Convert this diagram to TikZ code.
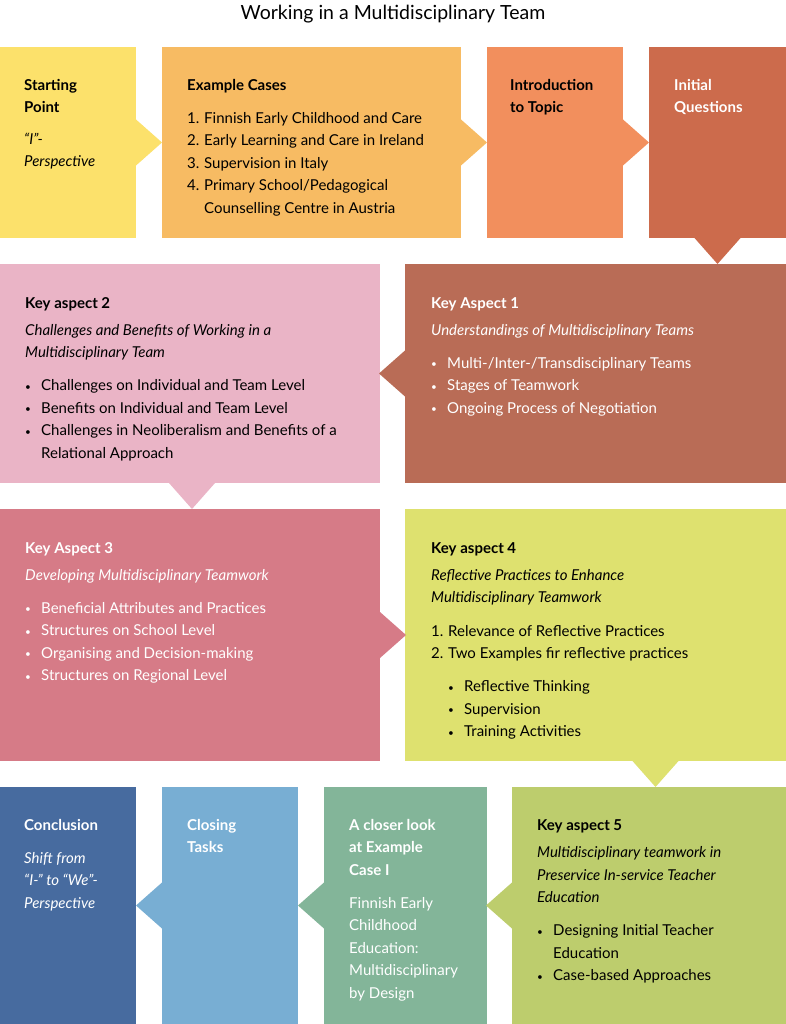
\documentclass[tikz,border=0pt]{standalone}
\usepackage{fontspec}
\setmainfont{Lato}
\usetikzlibrary{calc}
\definecolor{cStart}{HTML}{FCE16B}
\definecolor{cCases}{HTML}{F7BB63}
\definecolor{cIntro}{HTML}{F28F5D}
\definecolor{cInit}{HTML}{CC6B4C}
\definecolor{cKAone}{HTML}{B96C56}
\definecolor{cKAtwo}{HTML}{EAB4C6}
\definecolor{cKAthree}{HTML}{D67B87}
\definecolor{cKAfour}{HTML}{DEE16F}
\definecolor{cKAfive}{HTML}{BDCD6D}
\definecolor{cCloser}{HTML}{83B599}
\definecolor{cTasks}{HTML}{78AED3}
\definecolor{cConcl}{HTML}{476B9F}
\newcommand\itm{\makebox[16pt][l]{\fontsize{10}{10}\selectfont\raisebox{0.5pt}{•}}}
\newcommand\num[1]{\makebox[17pt][l]{#1.}}
\begin{document}
\begin{tikzpicture}[x=1pt,y=-1pt,
  box/.style={anchor=north west,inner sep=0pt,outer sep=0pt},
  txt/.style={anchor=north west,inner sep=0pt,align=left,font=\fontsize{15}{22.5}\selectfont}]
\useasboundingbox[fill=white] (0,0) rectangle (786,1024);
\node[anchor=center,font=\fontsize{19.5}{21}\selectfont] (title) at (393,14) {Working in a Multidisciplinary Team};
% boxes
\node[box,fill=cStart,minimum width=136pt,minimum height=191pt] (start) at (0,47) {};
\node[box,fill=cCases,minimum width=299pt,minimum height=191pt] (cases) at (162,47) {};
\node[box,fill=cIntro,minimum width=136pt,minimum height=191pt] (intro) at (487,47) {};
\node[box,fill=cInit,minimum width=137pt,minimum height=191pt] (init) at (649,47) {};
\node[box,fill=cKAone,minimum width=381pt,minimum height=219pt] (kaone) at (405,264) {};
\node[box,fill=cKAtwo,minimum width=380pt,minimum height=219pt] (katwo) at (0,264) {};
\node[box,fill=cKAthree,minimum width=380pt,minimum height=252pt] (kathree) at (0,509) {};
\node[box,fill=cKAfour,minimum width=381pt,minimum height=252pt] (kafour) at (405,509) {};
\node[box,fill=cKAfive,minimum width=274pt,minimum height=237pt] (kafive) at (512,787) {};
\node[box,fill=cCloser,minimum width=163pt,minimum height=237pt] (closer) at (324,787) {};
\node[box,fill=cTasks,minimum width=136pt,minimum height=237pt] (tasks) at (162,787) {};
\node[box,fill=cConcl,minimum width=136pt,minimum height=237pt] (concl) at (0,787) {};
% pointers
\fill[cStart] ([yshift=23pt]start.east) -- ([xshift=26pt]start.east) -- ([yshift=-23pt]start.east) -- cycle;
\fill[cCases] ([yshift=23pt]cases.east) -- ([xshift=26pt]cases.east) -- ([yshift=-23pt]cases.east) -- cycle;
\fill[cIntro] ([yshift=23pt]intro.east) -- ([xshift=26pt]intro.east) -- ([yshift=-23pt]intro.east) -- cycle;
\fill[cInit] ([xshift=-23pt]init.south) -- ([yshift=-26pt]init.south) -- ([xshift=23pt]init.south) -- cycle;
\fill[cKAone] ([yshift=23pt]kaone.west) -- ([xshift=-26pt]kaone.west) -- ([yshift=-23pt]kaone.west) -- cycle;
\fill[cKAtwo] ([xshift=-21pt]katwo.south) -- ([xshift=2pt,yshift=-26pt]katwo.south) -- ([xshift=25pt]katwo.south) -- cycle;
\fill[cKAthree] ([yshift=23pt]kathree.east) -- ([xshift=26pt]kathree.east) -- ([yshift=-23pt]kathree.east) -- cycle;
\coordinate (kafourtip) at ($(kafour.south)+(60,0)$);
\fill[cKAfour] ([xshift=-23pt]kafourtip) -- ([yshift=-26pt]kafourtip) -- ([xshift=23pt]kafourtip) -- cycle;
\fill[cKAfive] ([yshift=23pt]kafive.west) -- ([xshift=-26pt]kafive.west) -- ([yshift=-23pt]kafive.west) -- cycle;
\fill[cCloser] ([yshift=23pt]closer.west) -- ([xshift=-26pt]closer.west) -- ([yshift=-23pt]closer.west) -- cycle;
\fill[cTasks] ([yshift=23pt]tasks.west) -- ([xshift=-26pt]tasks.west) -- ([yshift=-23pt]tasks.west) -- cycle;
% texts
\node[txt] (starttext) at (24,79) {\textbf{Starting}\\\textbf{Point}\\[9pt]\textit{“I”-}\\\textit{Perspective}};
\node[txt] (casestext) at (187,79) {\textbf{Example Cases}\\[10.5pt]
  \num{1}Finnish Early Childhood and Care\\\num{2}Early Learning and Care in Ireland\\
  \num{3}Supervision in Italy\\\num{4}Primary School/Pedagogical\\\hspace*{17pt}Counselling Centre in Austria};
\node[txt] (introtext) at (510,79) {\textbf{Introduction}\\\textbf{to Topic}};
\node[txt,text=white] (inittext) at (674,79) {\textbf{Initial}\\\textbf{Questions}};
\node[txt,text=white] (kaonetext) at (431,297) {\textbf{Key Aspect 1}\\[4.5pt]
  \textit{Understandings of Multidisciplinary Teams}\\[10.5pt]
  \itm Multi-/Inter-/Transdisciplinary Teams\\\itm Stages of Teamwork\\\itm Ongoing Process of Negotiation};
\node[txt] (katwotext) at (25,297) {\textbf{Key aspect 2}\\[4.5pt]
  \textit{Challenges and Benefits of Working in a}\\\textit{Multidisciplinary Team}\\[10.5pt]
  \itm Challenges on Individual and Team Level\\\itm Benefits on Individual and Team Level\\
  \itm Challenges in Neoliberalism and Benefits of a\\\hspace*{16pt}Relational Approach};
\node[txt,text=white] (kathreetext) at (25,542) {\textbf{Key Aspect 3}\\[4.5pt]
  \textit{Developing Multidisciplinary Teamwork}\\[10.5pt]
  \itm Beneficial Attributes and Practices\\\itm Structures on School Level\\
  \itm Organising and Decision-making\\\itm Structures on Regional Level};
\node[txt] (kafourtext) at (431,542) {\textbf{Key aspect 4}\\[4.5pt]
  \textit{Reflective Practices to Enhance}\\\textit{Multidisciplinary Teamwork}\\[11pt]
  \num{1}Relevance of Reflective Practices\\\num{2}Two Examples fir reflective practices\\[10.5pt]
  \hspace*{17pt}\itm Reflective Thinking\\\hspace*{17pt}\itm Supervision\\\hspace*{17pt}\itm Training Activities};
\node[txt] (kafivetext) at (537,819) {\textbf{Key aspect 5}\\[5pt]
  \textit{Multidisciplinary teamwork in}\\\textit{Preservice In-service Teacher}\\\textit{Education}\\[10.5pt]
  \itm Designing Initial Teacher\\\hspace*{16pt}Education\\\itm Case-based Approaches};
\node[txt,text=white] (closertext) at (349,819) {\textbf{A closer look}\\\textbf{at Example}\\\textbf{Case I}\\[10.5pt]
  Finnish Early\\Childhood\\Education:\\Multidisciplinary\\by Design};
\node[txt,text=white] (taskstext) at (187,819) {\textbf{Closing}\\\textbf{Tasks}};
\node[txt,text=white] (concltext) at (24,819) {\textbf{Conclusion}\\[10.5pt]
  \textit{Shift from}\\\textit{“I-” to “We”-}\\\textit{Perspective}};
\end{tikzpicture}
\end{document}
